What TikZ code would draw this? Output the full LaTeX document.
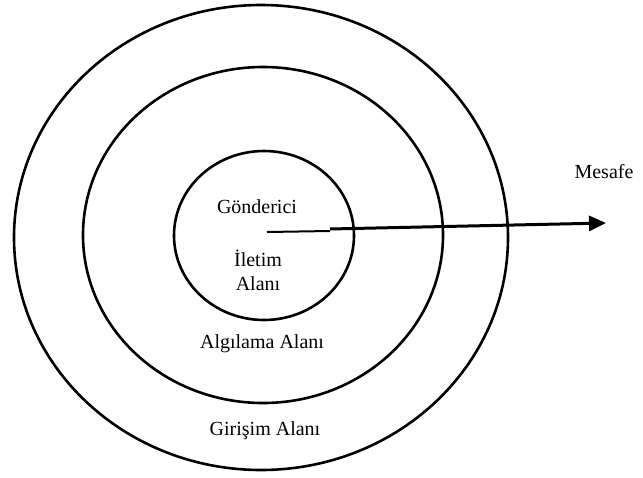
\documentclass[tikz,border=0pt]{standalone}
\usepackage{fontspec}
\setmainfont{Liberation Serif}
\usetikzlibrary{arrows.meta}
\begin{document}
\begin{tikzpicture}[x=1pt,y=-1pt,
  ring/.style={draw=black,line width=2.6pt},
  label/.style={font=\fontsize{20}{23}\selectfont,inner sep=0pt,text=black},
  thin part/.style={line width=2pt},
  thick part/.style={line width=3pt,-{Triangle[length=17pt,width=15pt]}}]
  \useasboundingbox (0,0) rectangle (643,477);
  % three nested areas
  \draw[ring] (261,237.5) ellipse [x radius=247,y radius=232.5];
  \draw[ring] (263,235) ellipse [x radius=180,y radius=168];
  \draw[ring] (264,235.5) ellipse [x radius=90,y radius=84.5];
  % labels
  \node[label] (gond) at (257,207) {Gönderici};
  \node[label,align=center] (ilet) at (258,270) {İletim\\[1pt]Alanı};
  \node[label] (algi) at (262,344) {Algılama Alanı};
  \node[label] (giri) at (265,431) {Girişim Alanı};
  \node[label] (mes) at (604,172) {Mesafe};
  % distance arrow
  \coordinate (src) at (267,232);
  \coordinate (mid) at (330,231);
  \coordinate (joint) at (330,229);
  \coordinate (tip) at (606,223);
  \draw[thin part] (src) -- (mid);
  \draw[thick part] (joint) -- (tip);
\end{tikzpicture}
\end{document}
